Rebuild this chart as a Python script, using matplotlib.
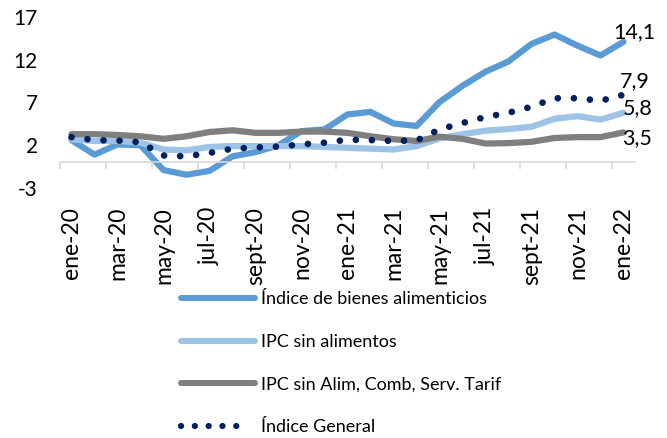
import matplotlib
matplotlib.use("Agg")
import matplotlib.pyplot as plt
from matplotlib.lines import Line2D
from matplotlib.ticker import FixedLocator, FixedFormatter

plt.rcParams['font.family'] = ['Lato', 'DejaVu Sans']

months = ["ene-20", "feb-20", "mar-20", "abr-20", "may-20", "jun-20", "jul-20", "ago-20",
          "sept-20", "oct-20", "nov-20", "dic-20", "ene-21", "feb-21", "mar-21", "abr-21",
          "may-21", "jun-21", "jul-21", "ago-21", "sept-21", "oct-21", "nov-21", "dic-21", "ene-22"]

alimentos = [2.6, 0.9, 2.1, 2.0, -0.9, -1.45, -1.0, 0.7, 1.2, 2.0, 3.65, 3.85, 5.6,
             5.9, 4.55, 4.25, 7.05, 8.95, 10.6, 11.8, 13.85, 14.95, 13.65, 12.5, 14.1]
sin_alimentos = [2.7, 2.5, 2.5, 2.3, 1.5, 1.4, 1.8, 1.9, 1.9, 1.9, 1.9, 1.8, 1.7,
                 1.6, 1.5, 1.9, 2.8, 3.3, 3.7, 3.9, 4.15, 5.1, 5.4, 5.0, 5.8]
subyacente = [3.3, 3.3, 3.2, 3.05, 2.75, 3.05, 3.55, 3.75, 3.45, 3.45, 3.6, 3.6, 3.45,
              3.05, 2.7, 2.5, 3.0, 2.75, 2.2, 2.25, 2.4, 2.85, 2.95, 2.95, 3.5]
general = [2.95, 2.6, 2.55, 2.35, 0.8, 0.7, 1.1, 1.6, 1.75, 1.85, 2.1, 2.3, 2.65,
           2.6, 2.5, 2.55, 3.85, 4.6, 5.3, 5.8, 6.5, 7.5, 7.5, 7.2, 7.9]

series_labels = ["Índice de bienes alimenticios", "IPC sin alimentos",
                 "IPC sin Alim, Comb, Serv. Tarif", "Índice General"]
yticks = [-3, 2, 7, 12, 17]

c_food, c_light, c_gray, c_navy = "#5B9BD5", "#9DC3E6", "#7F7F7F", "#002060"

fig = plt.figure(figsize=(6.67, 4.38), dpi=100)
ax = fig.add_axes([60/667, 1-188/438, 575/667, 171/438])

x = list(range(len(months)))
lw = 4.5
ax.plot(x, alimentos, color=c_food, lw=lw, solid_capstyle='round', solid_joinstyle='round')
ax.plot(x, sin_alimentos, color=c_light, lw=lw, solid_capstyle='round', solid_joinstyle='round')
ax.plot(x, subyacente, color=c_gray, lw=lw, solid_capstyle='round', solid_joinstyle='round')
ax.plot(x, general, color=c_navy, lw=4.8, linestyle=(0, (0.01, 2.4)), dash_capstyle='round')

ax.set_xlim(-0.5, len(months) - 0.5)
ax.set_ylim(-3, 17)

for s in ['top', 'right', 'left']:
    ax.spines[s].set_visible(False)
ax.spines['bottom'].set_position(('data', 0))
ax.spines['bottom'].set_color('#D9D9D9')
ax.spines['bottom'].set_linewidth(1.2)

ax.xaxis.set_major_locator(FixedLocator(x[::2]))
ax.xaxis.set_major_formatter(FixedFormatter(months[::2]))
ax.xaxis.set_minor_locator(FixedLocator([i - 0.5 for i in x[::2]]))
ax.tick_params(axis='x', which='major', length=0, pad=32, labelsize=16.5, labelrotation=90)
ax.tick_params(axis='x', which='minor', length=5, width=1.2, color='#D9D9D9', direction='out')

ax.set_yticks(yticks)
ax.set_yticklabels([str(v) for v in yticks])
ax.tick_params(axis='y', length=0, pad=16, labelsize=15)

fmt = lambda v: f"{v:.1f}".replace('.', ',')
offsets = [(8, 7), (8, 10), (10, 3), (10, -4)]
for line_vals, off in zip([alimentos, general, sin_alimentos, subyacente], offsets):
    ax.annotate(fmt(line_vals[-1]), (x[-1], line_vals[-1]), xytext=off,
                textcoords='offset points', ha='center', va='center', fontsize=15.5,
                annotation_clip=False)

dot_gap = 2.2
handles = [
    Line2D([], [], color=c_food, lw=4.3, solid_capstyle='round'),
    Line2D([], [], color=c_light, lw=4.3, solid_capstyle='round'),
    Line2D([], [], color=c_gray, lw=4.3, solid_capstyle='round'),
    Line2D([], [], color=c_navy, lw=4.5, dash_capstyle='round',
           linestyle=(0, (0.01, dot_gap, 0.01, dot_gap, 0.01, dot_gap, 0.01, dot_gap, 0.01, 9))),
]
leg = fig.legend(handles, series_labels, loc='upper left',
                 bbox_to_anchor=(165/667, 1-275/438), frameon=False, fontsize=13,
                 handlelength=4.1, handletextpad=0.3, labelspacing=1.48)

fig.savefig("out.png", dpi=100)
